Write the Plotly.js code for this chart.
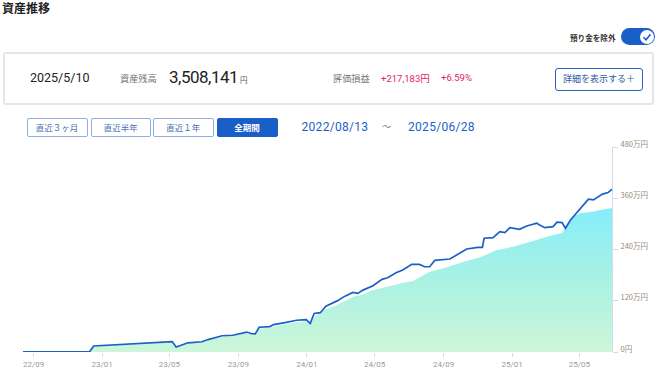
<!DOCTYPE html>
<html>
<head>
<meta charset="utf-8">
<script src="https://cdn.plot.ly/plotly-3.0.1.min.js"></script>
<style>
  html, body { margin:0; padding:0; background:#fff; }
  body { width:657px; height:376px; position:relative; overflow:hidden;
         font-family: Roboto, "Noto Sans CJK JP", sans-serif; color:#222; }
  #chart { position:absolute; left:0; top:0; width:657px; height:376px; }
  .abs { position:absolute; white-space:nowrap; z-index:2; }
  .jp { font-family: "Noto Sans CJK JP", sans-serif; }
  .btn { position:absolute; z-index:2; box-sizing:border-box; border:1.5px solid #8eaee4;
         border-radius:2px; color:#4d6fb0; font-size:8.5px; text-align:center;
         font-family:"Noto Sans CJK JP", sans-serif; background:#fff; }
</style>
</head>
<body>
<div id="chart"></div>

<div class="abs jp" style="left:2px;top:0px;font-size:12px;font-weight:bold;line-height:16px;">資産推移</div>

<div class="abs jp" style="left:570px;top:32px;font-size:7.6px;line-height:12px;color:#333;font-weight:bold;">預り金を除外</div>
<div class="abs" style="left:621px;top:28px;width:34px;height:17px;border-radius:9px;background:#1a5fc8;">
  <div style="position:absolute;left:18.5px;top:1.5px;width:14px;height:14px;border-radius:7px;background:#fff;">
    <svg width="14" height="14" style="position:absolute;left:0;top:0"><polyline points="3.5,7.2 6,9.8 10.5,4.2" fill="none" stroke="#1a5fc8" stroke-width="1.6"/></svg>
  </div>
</div>

<div class="abs" style="left:3px;top:52px;width:647px;height:49px;border:2px solid #e3e6ea;border-radius:3px;"></div>
<div class="abs" style="left:30px;top:70px;font-size:12.5px;line-height:16px;color:#222;">2025/5/10</div>
<div class="abs jp" style="left:120px;top:72px;font-size:9.2px;line-height:12px;color:#777;">資産残高</div>
<div class="abs" style="left:169px;top:66px;font-size:17px;line-height:22px;color:#222;letter-spacing:-0.5px;">3,508,141</div>
<div class="abs jp" style="left:240px;top:75px;font-size:7.5px;line-height:10px;color:#555;">円</div>
<div class="abs jp" style="left:333px;top:72px;font-size:9.2px;line-height:12px;color:#777;">評価損益</div>
<div class="abs" style="left:381px;top:72px;font-size:9.5px;line-height:12px;color:#e0245e;">+217,183<span class="jp">円</span></div>
<div class="abs" style="left:441px;top:72px;font-size:9.5px;line-height:12px;color:#e0245e;">+6.59%</div>
<div class="abs jp" style="left:555px;top:67.5px;width:88px;height:23px;box-sizing:border-box;border:1.5px solid #2a62c0;border-radius:3px;font-size:9px;line-height:20px;color:#2d5aa8;text-align:center;">詳細を表示する＋</div>

<div class="btn" style="left:26.5px;top:117.5px;width:61px;height:19.5px;line-height:16.5px;">直近３ヶ月</div>
<div class="btn" style="left:90.5px;top:117.5px;width:60.5px;height:19.5px;line-height:16.5px;">直近半年</div>
<div class="btn" style="left:153px;top:117.5px;width:60.5px;height:19.5px;line-height:16.5px;">直近１年</div>
<div class="btn" style="left:216.5px;top:117.5px;width:61px;height:19.5px;line-height:16.5px;background:#1a5fc8;border-color:#1a5fc8;color:#fff;font-weight:bold;">全期間</div>

<div class="abs" style="left:301.5px;top:119px;font-size:12px;line-height:16px;color:#1d5fc8;letter-spacing:0.3px;">2022/08/13</div>
<div class="abs jp" style="left:382px;top:119px;font-size:9px;line-height:16px;color:#777;">～</div>
<div class="abs" style="left:408px;top:119px;font-size:12px;line-height:16px;color:#1d5fc8;letter-spacing:0.3px;">2025/06/28</div>

<script>
// ---- data ----
const lineDates = [
  '2022-08-13','2022-12-10','2022-12-17','2023-05-06','2023-05-13','2023-06-03','2023-06-28',
  '2023-07-09','2023-08-03','2023-08-22','2023-09-16','2023-09-25','2023-10-01','2023-10-08',
  '2023-10-27','2023-11-03','2023-11-23','2023-12-14','2023-12-31','2024-01-07','2024-01-14',
  '2024-01-25','2024-02-04','2024-02-24','2024-03-09','2024-03-23','2024-04-01','2024-04-10',
  '2024-04-28','2024-05-14','2024-05-24','2024-06-08','2024-06-20','2024-07-06','2024-07-20',
  '2024-07-29','2024-08-07','2024-08-16','2024-09-12','2024-09-24','2024-10-12','2024-11-01',
  '2024-11-09','2024-11-12','2024-11-28','2024-12-10','2024-12-19','2024-12-28','2025-01-14',
  '2025-01-27','2025-02-14','2025-02-19','2025-02-28','2025-03-15','2025-03-22','2025-03-31',
  '2025-04-06','2025-04-15','2025-05-02','2025-05-17','2025-05-26','2025-06-11','2025-06-21',
  '2025-06-28'
];
const lineValues = [
  3000, 10000, 141000, 244000, 115000, 216000, 240000,
  291000, 380000, 392000, 467000, 427000, 423000, 580000,
  596000, 643000, 686000, 744000, 760000, 667000, 902000,
  920000, 1073000, 1197000, 1308000, 1395000, 1371000, 1449000,
  1550000, 1700000, 1738000, 1855000, 1918000, 2052000, 2052000,
  1996000, 1996000, 2146000, 2177000, 2270000, 2411000, 2451000,
  2451000, 2663000, 2677000, 2818000, 2794000, 2912000, 2874000,
  2951000, 3015000, 2975000, 2912000, 2935000, 3038000, 3029000,
  2897000, 3092000, 3351000, 3578000, 3562000, 3696000, 3733000,
  3813000
];
const principalDates = [
  '2022-08-13','2022-12-10','2022-12-17','2023-05-06','2023-05-13','2023-06-03','2023-06-28',
  '2023-07-09','2023-08-03','2023-08-22','2023-09-16','2023-09-25','2023-10-01','2023-10-08',
  '2023-10-27','2023-11-03','2023-11-23','2023-12-14','2023-12-31','2024-01-07','2024-01-14',
  '2024-01-30','2024-02-17','2024-03-06','2024-03-24','2024-04-10','2024-04-28','2024-05-16',
  '2024-06-01','2024-06-15','2024-07-08','2024-08-07','2024-09-07','2024-10-06','2024-11-05',
  '2024-12-05','2025-01-03','2025-02-02','2025-02-19','2025-03-15','2025-03-31','2025-04-06',
  '2025-04-20','2025-05-02','2025-05-26','2025-06-07','2025-06-28'
];
const principalValues = [
  2000, 8000, 136000, 236000, 112000, 205000, 230000,
  275000, 365000, 380000, 445000, 415000, 415000, 550000,
  560000, 600000, 645000, 700000, 720000, 660000, 822000,
  979000, 1057000, 1174000, 1291000, 1348000, 1449000, 1503000,
  1566000, 1606000, 1660000, 1878000, 1982000, 2113000, 2217000,
  2388000, 2465000, 2583000, 2639000, 2740000, 2787000, 2897000,
  3170000, 3250000, 3287000, 3327000, 3374000
];
const xTickVals = ['2022-09-01','2023-01-01','2023-05-01','2023-09-01','2024-01-01',
                   '2024-05-01','2024-09-01','2025-01-01','2025-05-01'];
const xTickText = ['22/09','23/01','23/05','23/09','24/01','24/05','24/09','25/01','25/05'];
const yTickVals = [0, 1200000, 2400000, 3600000, 4800000];
const yTickText = ['0円','120万円','240万円','360万円','480万円'];
const xRange = ['2022-08-13','2025-06-28'];

// ---- chart ----
const traces = [
  {
    x: principalDates, y: principalValues, type: 'scatter', mode: 'lines',
    fill: 'tozeroy', line: {width: 0, color: 'rgba(0,0,0,0)'},
    fillgradient: {type: 'vertical', colorscale: [[0, '#cdf6d8'], [0.5, '#aaf1e4'], [1, '#86edfa']]},
    hoverinfo: 'skip'
  },
  {
    x: lineDates, y: lineValues, type: 'scatter', mode: 'lines',
    line: {color: '#1b5fc8', width: 1.7}, hoverinfo: 'skip'
  }
];
const layout = {
  width: 657, height: 376,
  margin: {l: 23, r: 45, t: 147, b: 24, pad: 0},
  paper_bgcolor: 'rgba(0,0,0,0)', plot_bgcolor: 'rgba(0,0,0,0)',
  showlegend: false,
  font: {family: '"Noto Sans CJK JP", sans-serif'},
  xaxis: {
    type: 'date', range: xRange, tickmode: 'array', tickvals: xTickVals, ticktext: xTickText,
    showgrid: false, zeroline: false, showline: false,
    ticks: 'outside', ticklen: 4, tickcolor: '#d6d9de', tickwidth: 1,
    tickfont: {size: 8, color: '#9a9a9a', family: 'Roboto, sans-serif'}
  },
  yaxis: {
    side: 'right', range: [0, 4800000], tickmode: 'array', tickvals: yTickVals, ticktext: yTickText,
    showgrid: false, zeroline: false, showline: true, linecolor: '#cfdcef', linewidth: 1,
    ticks: 'outside', ticklen: 5, tickcolor: '#cfdcef', tickwidth: 1,
    ticklabelshift: -3, ticklabelstandoff: 1,
    tickfont: {size: 7.5, color: '#9a8878'}
  }
};
Plotly.newPlot('chart', traces, layout, {staticPlot: true, displayModeBar: false});
</script>
</body>
</html>
